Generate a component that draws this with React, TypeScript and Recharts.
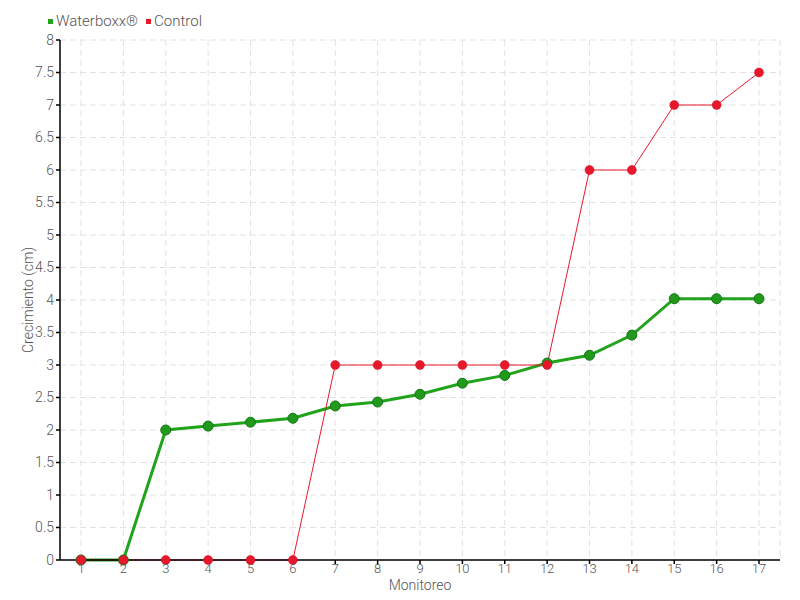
import { LineChart, Line, XAxis, YAxis, CartesianGrid, Legend } from 'recharts';

const monitoreo = ['1', '2', '3', '4', '5', '6', '7', '8', '9', '10', '11', '12', '13', '14', '15', '16', '17'];
const waterboxx = [0, 0, 2.0, 2.06, 2.12, 2.18, 2.37, 2.43, 2.55, 2.72, 2.84, 3.03, 3.15, 3.46, 4.02, 4.02, 4.02];
const control = [0, 0, 0, 0, 0, 0, 3, 3, 3, 3, 3, 3, 6, 6, 7, 7, 7.5];
const yTicks = [0, 0.5, 1, 1.5, 2, 2.5, 3, 3.5, 4, 4.5, 5, 5.5, 6, 6.5, 7, 7.5, 8];

const GREEN = '#22a31c';
const RED = '#e8182c';
const FONT = "Roboto, 'DejaVu Sans', sans-serif";

const data = monitoreo.map((m, i) => ({ m, waterboxx: waterboxx[i], control: control[i] }));

function LegendBox() {
    const items = [
        { label: 'Waterboxx®', color: GREEN },
        { label: 'Control', color: RED },
    ];
    return (
        <div style={{ display: 'flex', fontFamily: FONT, fontWeight: 300, fontSize: 15, color: '#555', whiteSpace: 'nowrap' }}>
            {items.map((it) => (
                <span key={it.label} style={{ display: 'flex', alignItems: 'center', marginRight: 8 }}>
                    <span style={{ width: 5, height: 5, background: it.color, marginRight: 3, display: 'inline-block' }} />
                    {it.label}
                </span>
            ))}
        </div>
    );
}

export default function App() {
    const yTick = { fontFamily: FONT, fontWeight: 300, fontSize: 14, fill: '#555' };
    const xTick = { fontFamily: FONT, fontWeight: 300, fontSize: 13, fill: '#555' };
    const labelStyle = { fontFamily: FONT, fontWeight: 300, fontSize: 14, fill: '#555' };
    return (
        <div style={{ position: 'absolute', left: 0, top: 0, width: 800, height: 600, background: '#fff' }}>
            <LineChart width={800} height={600} data={data} margin={{ top: 40, right: 20, bottom: 0, left: 0 }}>
                <CartesianGrid stroke="#e2e2e2" strokeDasharray="6 4" />
                <XAxis
                    dataKey="m"
                    scale="point"
                    padding={{ left: 21, right: 21 }}
                    height={40}
                    tickSize={4}
                    tickMargin={0}
                    stroke="#000"
                    strokeWidth={1.5}
                    tick={xTick}
                    label={{ value: 'Monitoreo', position: 'center', dy: 5, style: labelStyle }}
                />
                <YAxis
                    domain={[0, 8]}
                    ticks={yTicks}
                    interval={0}
                    width={60}
                    tickSize={4}
                    stroke="#000"
                    strokeWidth={1.5}
                    tick={yTick}
                    label={{ value: 'Crecimiento (cm)', angle: -90, position: 'center', dx: -2, style: labelStyle }}
                />
                <Legend
                    verticalAlign="middle"
                    align="center"
                    content={<LegendBox />}
                    wrapperStyle={{ top: 12, left: 48, width: 'auto' }}
                />
                <Line
                    dataKey="waterboxx"
                    name="Waterboxx®"
                    stroke={GREEN}
                    strokeWidth={3}
                    dot={{ r: 5, fill: '#1f9a1a', stroke: '#17741a', strokeWidth: 1 }}
                    isAnimationActive={false}
                />
                <Line
                    dataKey="control"
                    name="Control"
                    stroke={RED}
                    strokeWidth={1}
                    dot={{ r: 4.5, fill: RED, stroke: '#c8101f', strokeWidth: 0.5 }}
                    isAnimationActive={false}
                />
            </LineChart>
        </div>
    );
}
